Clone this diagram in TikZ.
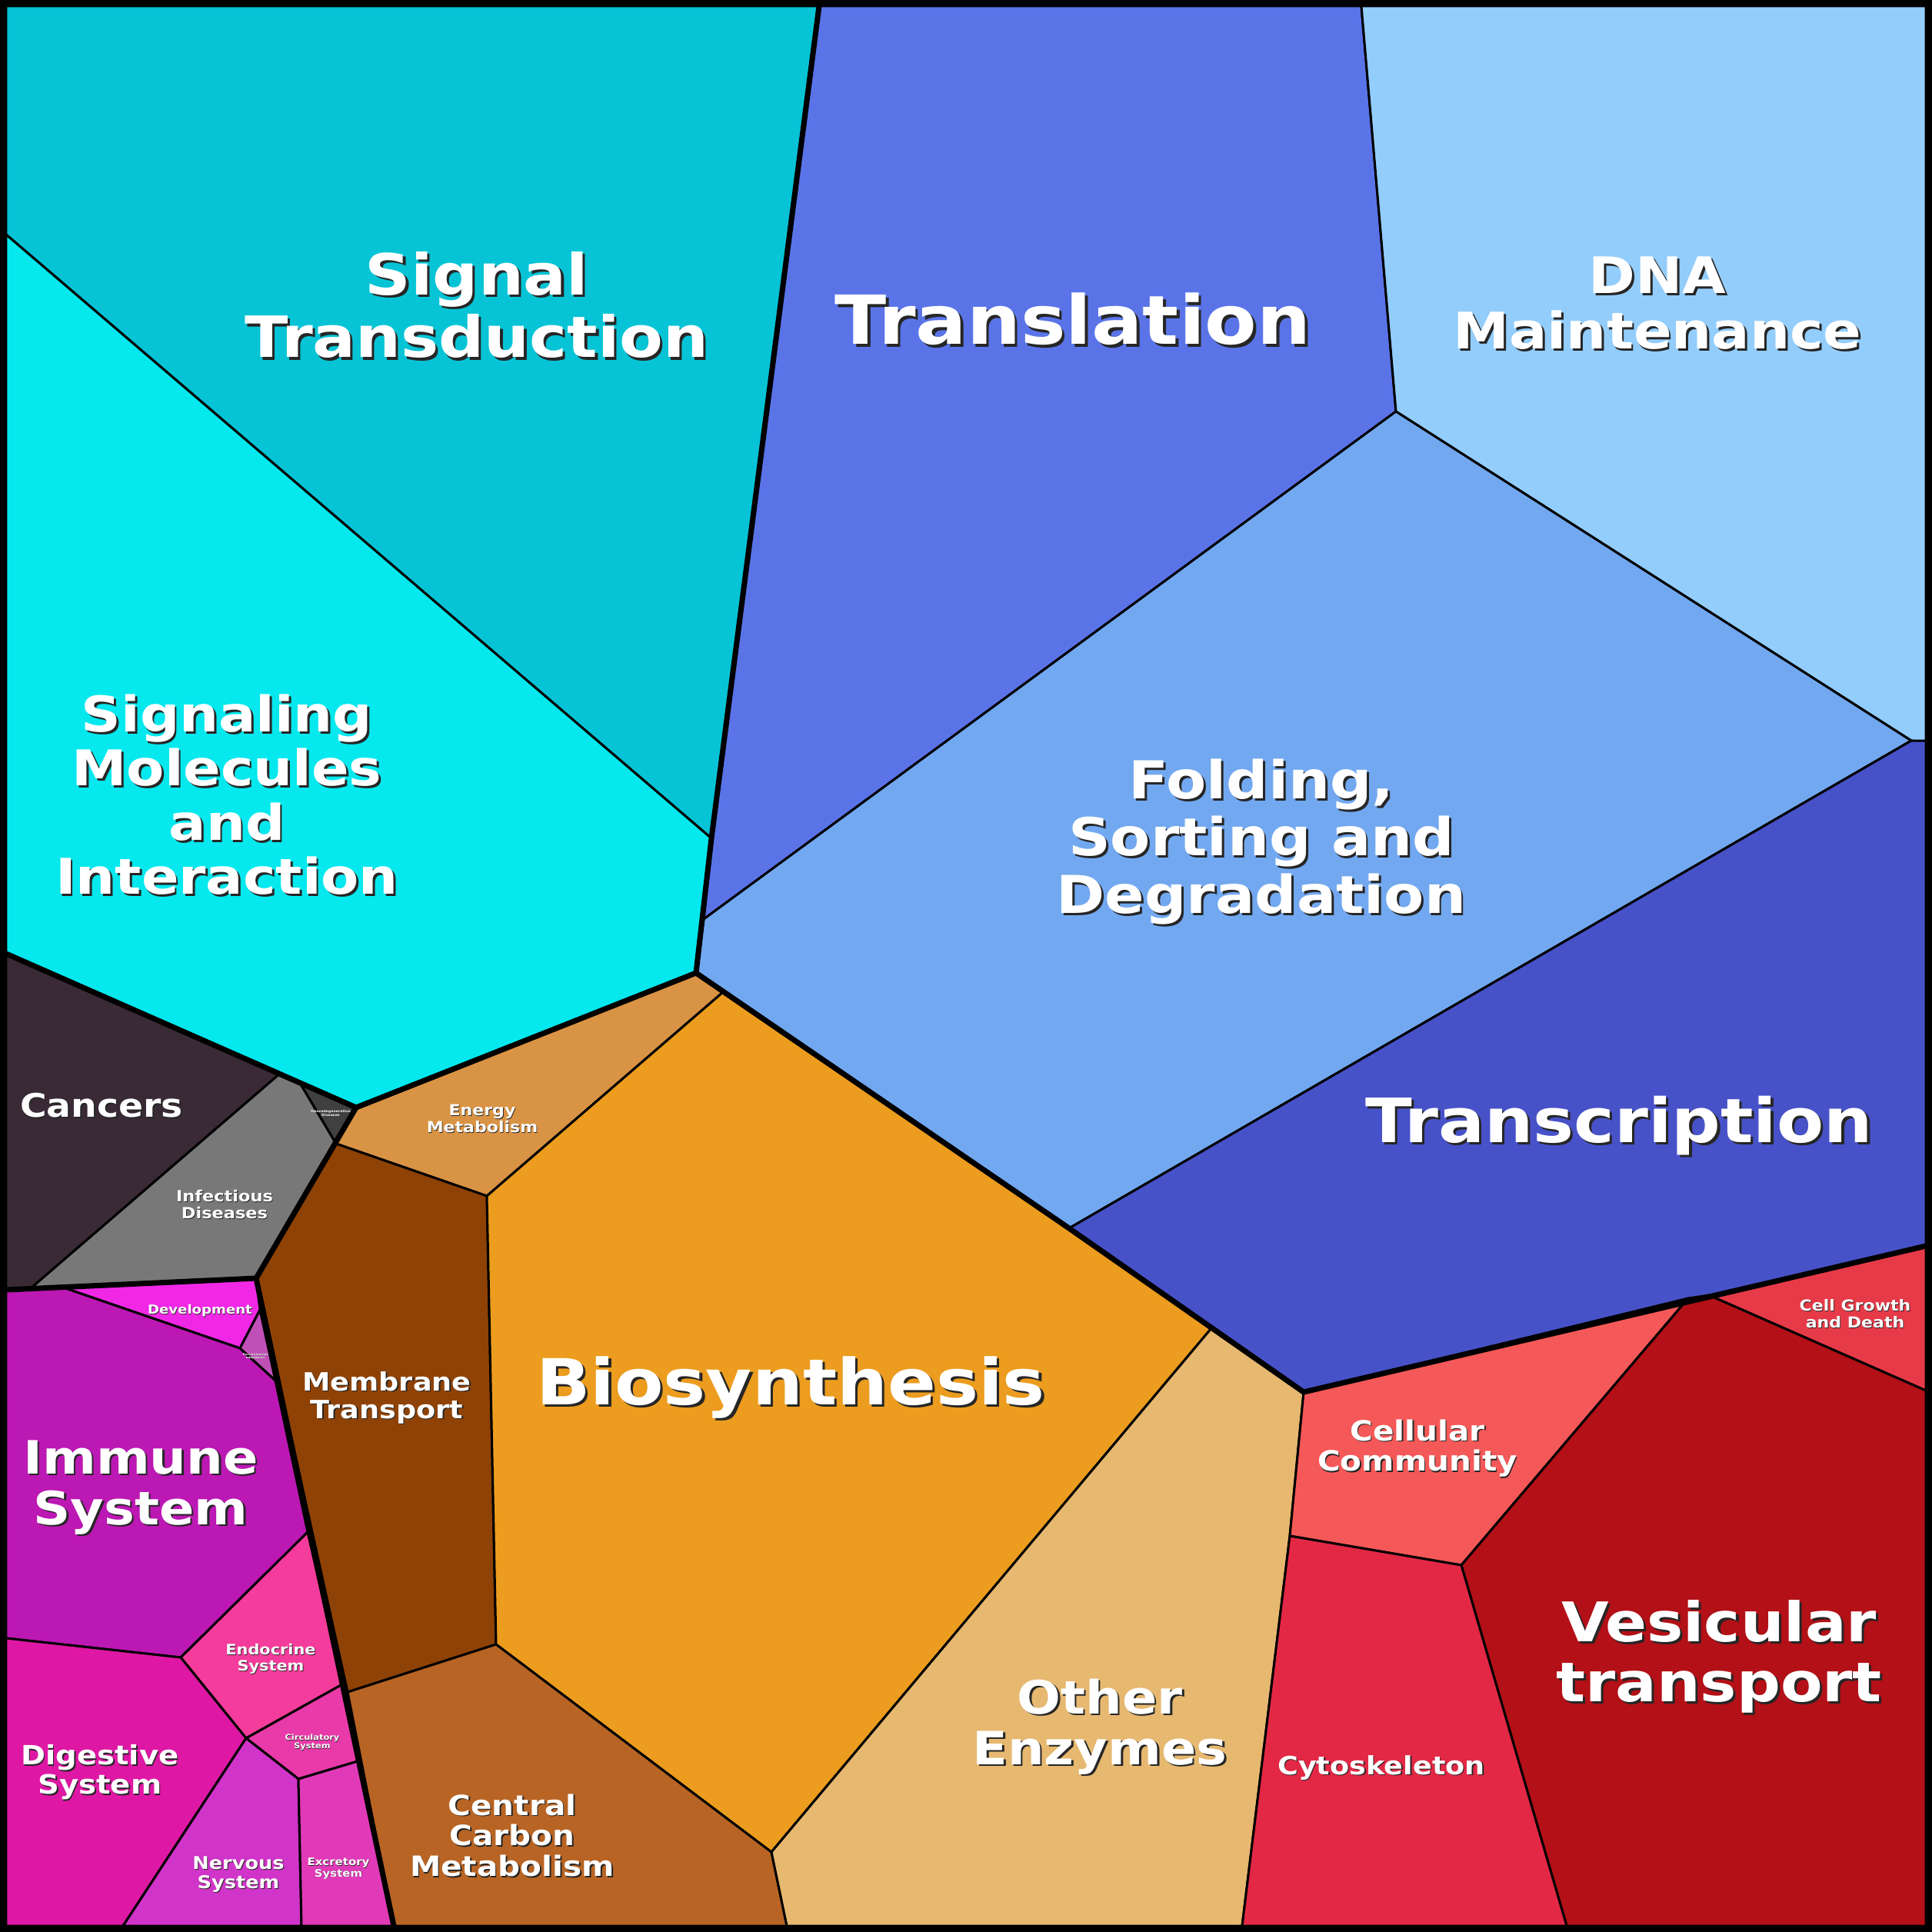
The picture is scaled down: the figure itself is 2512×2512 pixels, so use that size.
\documentclass[tikz,border=0pt]{standalone}
\usepackage{fontspec}
\setmainfont{DejaVu Sans}
\usepackage{graphicx}
\definecolor{cSigT}{HTML}{06C4D6}
\definecolor{cSigM}{HTML}{05E8EE}
\definecolor{cTransl}{HTML}{5A74E8}
\definecolor{cDNA}{HTML}{93CDFC}
\definecolor{cFold}{HTML}{72A8F0}
\definecolor{cTranscr}{HTML}{4752C8}
\definecolor{cCanc}{HTML}{3A2A36}
\definecolor{cInf}{HTML}{787878}
\definecolor{cNeuro}{HTML}{404040}
\definecolor{cEnergy}{HTML}{D99344}
\definecolor{cMemb}{HTML}{8F4205}
\definecolor{cBio}{HTML}{EC9C1E}
\definecolor{cCarb}{HTML}{B86424}
\definecolor{cOther}{HTML}{E6B870}
\definecolor{cComm}{HTML}{F55858}
\definecolor{cGrowth}{HTML}{E63A48}
\definecolor{cVes}{HTML}{B31017}
\definecolor{cCyto}{HTML}{E32845}
\definecolor{cDev}{HTML}{F028E6}
\definecolor{cEnv}{HTML}{C050B8}
\definecolor{cImm}{HTML}{BC18B4}
\definecolor{cEndo}{HTML}{F43C9C}
\definecolor{cCirc}{HTML}{E83AA8}
\definecolor{cDig}{HTML}{DE18A4}
\definecolor{cNerv}{HTML}{D034C8}
\definecolor{cExcr}{HTML}{E03AB8}
\tikzset{
  cell/.style={draw=black,line width=0.85pt,line join=round},
  group/.style={draw=black,line width=2pt,line join=round,line cap=round},
  lbl/.style={text=white,inner sep=0pt},
  shd/.style={text=black!85,inner sep=0pt}
}
% label with a dark drop shadow
\newcommand{\cellname}[4]{%
  \node[shd,font=\bfseries\fontsize{#3}{1.1\dimexpr#3pt\relax}\selectfont] (#1s) at ($#2+(0.15*#3,8+0.15*#3)$)
    {\scalebox{1.12}[1]{\begin{tabular}{@{}c@{}}#4\end{tabular}}};
  \node[lbl,font=\bfseries\fontsize{#3}{1.1\dimexpr#3pt\relax}\selectfont] (#1) at ($#2+(0,8)$)
    {\scalebox{1.12}[1]{\begin{tabular}{@{}c@{}}#4\end{tabular}}};}
\usetikzlibrary{calc}
\begin{document}
\begin{tikzpicture}[x=0.01cm,y=-0.01cm]
\useasboundingbox (0,0) rectangle (2512,2512);
%Top cells
\fill[cSigT,cell] (8,8) -- (1065,8) -- (925,1090) -- (8,305) -- cycle;
\fill[cTransl,cell] (1065,8) -- (1770,8) -- (1815,535) -- (915,1195) -- (925,1090) -- cycle;
\fill[cDNA,cell] (1770,8) -- (2504,8) -- (2504,965) -- (2485,963) -- (1815,535) -- cycle;
\fill[cFold,cell] (1815,535) -- (2485,963) -- (1390,1597) -- (905,1265) -- (915,1195) -- cycle;
\fill[cTranscr,cell] (2485,963) -- (2504,963) -- (2504,1620) -- (1695,1810) -- (1390,1597) -- cycle;
\fill[cSigM,cell] (8,305) -- (925,1090) -- (905,1265) -- (463,1440) -- (8,1240) -- cycle;
%Diseases
\fill[cCanc,cell] (8,1240) -- (365,1395) -- (40,1675) -- (8,1677) -- cycle;
\fill[cInf,cell] (365,1395) -- (390,1408) -- (437,1487) -- (333,1662) -- (40,1675) -- cycle;
\fill[cNeuro,cell] (390,1408) -- (463,1440) -- (437,1487) -- cycle;
%Metabolism
\fill[cEnergy,cell] (463,1440) -- (905,1265) -- (940,1290) -- (633,1555) -- (437,1487) -- cycle;
\fill[cMemb,cell] (437,1487) -- (633,1555) -- (645,2138) -- (452,2200) -- (333,1662) -- cycle;
\fill[cBio,cell] (940,1290) -- (1390,1597) -- (1575,1727) -- (1003,2408) -- (645,2138) -- (633,1555) -- cycle;
\fill[cCarb,cell] (645,2138) -- (1003,2408) -- (1023,2504) -- (512,2504) -- (452,2200) -- cycle;
\fill[cOther,cell] (1575,1727) -- (1695,1810) -- (1677,1997) -- (1615,2504) -- (1023,2504) -- (1003,2408) -- cycle;
%Cellular processes
\fill[cComm,cell] (1695,1810) -- (2195,1688) -- (1900,2035) -- (1677,1997) -- cycle;
\fill[cGrowth,cell] (2222,1684) -- (2504,1620) -- (2504,1808) -- cycle;
\fill[cVes,cell] (2195,1688) -- (2222,1684) -- (2504,1808) -- (2504,2504) -- (2037,2504) -- (1900,2035) -- cycle;
\fill[cCyto,cell] (1677,1997) -- (1900,2035) -- (2037,2504) -- (1615,2504) -- cycle;
%Organismal systems
\fill[cDev,cell] (85,1675) -- (333,1662) -- (338,1703) -- (312,1753) -- cycle;
\fill[cEnv,cell] (338,1703) -- (358,1795) -- (312,1753) -- cycle;
\fill[cImm,cell] (8,1677) -- (85,1675) -- (312,1753) -- (358,1795) -- (400,1992) -- (235,2155) -- (8,2130) -- cycle;
\fill[cEndo,cell] (235,2155) -- (400,1992) -- (445,2190) -- (320,2260) -- cycle;
\fill[cCirc,cell] (320,2260) -- (445,2190) -- (465,2290) -- (388,2313) -- cycle;
\fill[cDig,cell] (8,2130) -- (235,2155) -- (320,2260) -- (160,2504) -- (8,2504) -- cycle;
\fill[cNerv,cell] (160,2504) -- (320,2260) -- (388,2313) -- (392,2504) -- cycle;
\fill[cExcr,cell] (388,2313) -- (465,2290) -- (512,2504) -- (392,2504) -- cycle;

%Group borders
\draw[group] (1065,8) -- (925,1090) -- (905,1265) -- (1390,1597) -- (1695,1810) -- (2504,1620);
\draw[group] (8,1240) -- (463,1440) -- (905,1265);
\draw[group] (463,1440) -- (333,1662) -- (8,1677);
\draw[group] (333,1662) -- (512,2504);
\draw[black,line width=2.3pt] (4,4) rectangle (2508,2508);

%Labels
\cellname{sigt}{(620,400)}{21}{Signal\\Transduction}
\cellname{transl}{(1395,420)}{25}{Translation}
\cellname{dna}{(2155,395)}{18.6}{DNA\\Maintenance}
\cellname{sigm}{(295,1035)}{18.2}{Signaling\\Molecules\\and\\Interaction}
\cellname{fold}{(1640,1090)}{19.3}{Folding,\\Sorting and\\Degradation}
\cellname{transcr}{(2105,1460)}{22.6}{Transcription}
\cellname{canc}{(132,1435)}{12}{Cancers}
\cellname{inf}{(292,1561)}{5.7}{Infectious\\Diseases}
\cellname{neuro}{(430,1440)}{1.2}{Neurodegenerative\\Diseases}
\cellname{energy}{(627,1449)}{5.6}{Energy\\Metabolism}
\cellname{memb}{(503,1811)}{9.3}{Membrane\\Transport}
\cellname{bio}{(1028,1800)}{23.5}{Biosynthesis}
\cellname{carb}{(666,2384)}{10.3}{Central\\Carbon\\Metabolism}
\cellname{other}{(1430,2240)}{17}{Other\\Enzymes}
\cellname{comm}{(1843,1877)}{10.3}{Cellular\\Community}
\cellname{growth}{(2412,1703)}{5.6}{Cell Growth\\and Death}
\cellname{ves}{(2235,2150)}{20.2}{Vesicular\\transport}
\cellname{cyto}{(1796,2292)}{9.3}{Cytoskeleton}
\cellname{dev}{(260,1697)}{4.6}{Development}
\cellname{env}{(332,1756)}{1}{Environmental\\adaptation}
\cellname{imm}{(183,1928)}{17}{Immune\\System}
\cellname{endo}{(352,2150)}{5.3}{Endocrine\\System}
\cellname{circ}{(406,2258)}{2.9}{Circulatory\\System}
\cellname{dig}{(130,2298)}{9.8}{Digestive\\System}
\cellname{nerv}{(310,2430)}{6.5}{Nervous\\System}
\cellname{excr}{(440,2422)}{3.8}{Excretory\\System}
\end{tikzpicture}
\end{document}
